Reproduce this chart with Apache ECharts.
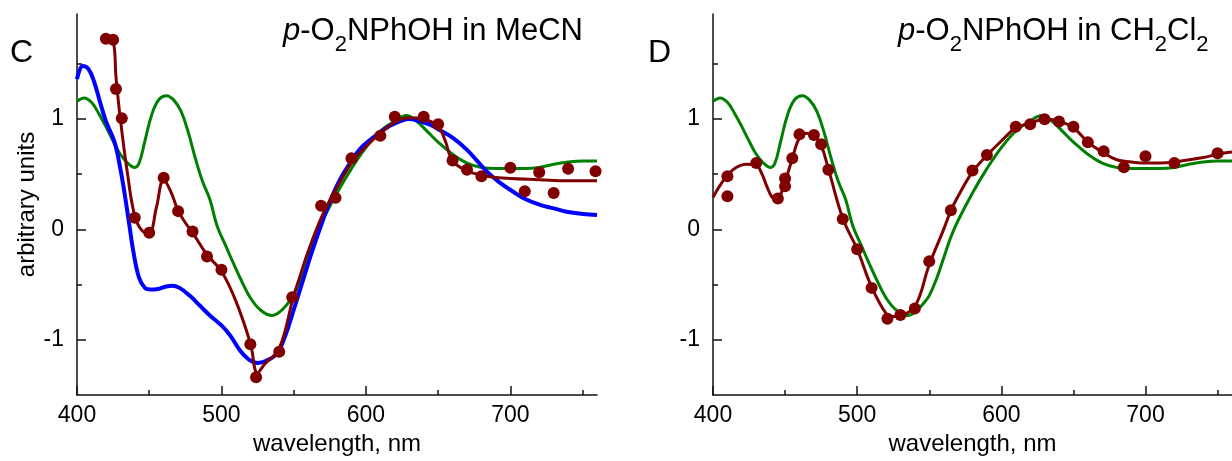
<!DOCTYPE html>
<html>
<head>
<meta charset="utf-8">
<script src="https://cdn.jsdelivr.net/npm/echarts@6/dist/echarts.min.js"></script>
<style>
  html, body { margin: 0; padding: 0; background: #fff; }
  #chart { width: 1232px; height: 461px; }
</style>
</head>
<body>
<div id="chart"></div>
<script>
// wavelength (nm), value (arbitrary units)
const greenCalc = [
  [400, 1.16], [405, 1.19], [410, 1.15], [415, 1.05], [420, 0.93], [425, 0.8], [430, 0.68],
  [435, 0.6], [440, 0.56], [443, 0.6], [447, 0.8], [452, 1.05], [457, 1.18], [462, 1.21],
  [467, 1.17], [472, 1.07], [477, 0.88], [482, 0.64], [487, 0.43], [492, 0.27], [497, 0.03],
  [503, -0.15], [508, -0.3], [514, -0.47], [520, -0.62], [527, -0.73], [535, -0.78],
  [541, -0.74], [546, -0.67], [550, -0.6], [555, -0.45], [560, -0.26], [565, -0.07],
  [570, 0.08], [580, 0.33], [590, 0.55], [600, 0.74], [610, 0.89], [620, 0.98], [628, 1.03],
  [635, 0.98], [643, 0.88], [650, 0.79], [660, 0.68], [670, 0.6], [680, 0.56], [690, 0.55],
  [700, 0.55], [710, 0.55], [720, 0.56], [730, 0.59], [740, 0.61], [750, 0.62], [760, 0.62]
];
const blueMeCN = [
  [400, 1.36], [404, 1.48], [408, 1.45], [412, 1.33], [416, 1.15], [420, 0.98], [426, 0.79],
  [430, 0.55], [433, 0.32], [436, 0.06], [439, -0.2], [443, -0.44], [447, -0.53], [451, -0.545],
  [456, -0.54], [461, -0.52], [466, -0.51], [471, -0.53], [478, -0.6], [485, -0.69],
  [492, -0.78], [500, -0.87], [506, -0.96], [513, -1.1], [519, -1.18], [525, -1.21],
  [531, -1.19], [538, -1.13], [544, -0.97], [550, -0.73], [556, -0.48], [562, -0.23],
  [568, 0.0], [575, 0.25], [582, 0.45], [589, 0.6], [596, 0.73], [603, 0.81], [610, 0.88],
  [617, 0.94], [624, 0.98], [630, 1.0], [637, 0.98], [644, 0.95], [651, 0.9], [660, 0.83],
  [670, 0.72], [677, 0.62], [684, 0.52], [692, 0.43], [702, 0.34], [711, 0.27], [721, 0.22],
  [730, 0.19], [739, 0.16], [750, 0.14], [760, 0.13]
];
const redFitMeCN = [
  [420, 1.72], [425, 1.7], [427, 1.38], [430, 1.0], [435, 0.5], [440, 0.12], [445, -0.01],
  [450, -0.03], [455, 0.2], [460, 0.45], [465, 0.34], [470, 0.17], [475, 0.06], [480, -0.03],
  [490, -0.23], [500, -0.38], [510, -0.65], [520, -1.03], [525, -1.3], [530, -1.22],
  [540, -1.08], [550, -0.6], [554, -0.44], [560, -0.2], [570, 0.13], [580, 0.38], [590, 0.6],
  [600, 0.75], [610, 0.87], [620, 0.97], [630, 1.01], [640, 1.0], [650, 0.93], [655, 0.8],
  [660, 0.62], [670, 0.53], [680, 0.49], [690, 0.47], [700, 0.46], [720, 0.45], [740, 0.44],
  [760, 0.44]
];
const redDotsMeCN = [
  [420, 1.725], [425, 1.716], [427, 1.27], [431, 1.006], [440, 0.105], [450, -0.03],
  [460, 0.467], [470, 0.165], [480, -0.02], [490, -0.245], [500, -0.365], [520, -1.04],
  [524, -1.34], [540, -1.108], [549, -0.614], [569, 0.213], [579, 0.285], [590, 0.644],
  [610, 0.847], [620, 1.02], [640, 1.02], [650, 0.952], [660, 0.623], [670, 0.54],
  [680, 0.48], [700, 0.557], [710, 0.344], [720, 0.518], [730, 0.33], [740, 0.548],
  [759, 0.527]
];
const redFitDCM = [
  [400, 0.29], [405, 0.4], [410, 0.49], [416, 0.56], [423, 0.59], [430, 0.58], [434, 0.5],
  [437, 0.4], [441, 0.29], [444, 0.27], [447, 0.32], [450, 0.43], [455, 0.64], [460, 0.83],
  [465, 0.87], [470, 0.85], [475, 0.76], [480, 0.55], [490, 0.1], [500, -0.18], [510, -0.52],
  [520, -0.76], [525, -0.79], [530, -0.78], [540, -0.7], [550, -0.32], [560, 0.0], [565, 0.17],
  [570, 0.3], [580, 0.52], [590, 0.67], [600, 0.8], [610, 0.92], [620, 0.96], [630, 1.0],
  [640, 0.98], [650, 0.92], [660, 0.79], [670, 0.7], [680, 0.63], [690, 0.61], [700, 0.6],
  [710, 0.6], [720, 0.61], [740, 0.65], [750, 0.68], [760, 0.7]
];
const redDotsDCM = [
  [410, 0.48], [410, 0.3], [430, 0.6], [445, 0.28], [450, 0.46], [450, 0.39], [455, 0.644],
  [460, 0.86], [470, 0.854], [475, 0.77], [480, 0.54], [490, 0.093], [500, -0.18],
  [510, -0.53], [521, -0.81], [530, -0.775], [540, -0.716], [550, -0.29], [565, 0.173],
  [580, 0.533], [590, 0.674], [610, 0.928], [620, 0.952], [630, 0.997], [640, 0.977],
  [650, 0.928], [660, 0.788], [671, 0.707], [685, 0.563], [700, 0.662], [720, 0.6],
  [750, 0.69]
];
const xLabels = [400, 500, 600, 700];
const xMinor = [450, 550, 650, 750];
const yLabels = [-1, 0, 1];
const yMinor = [-0.5, 0.5, 1.5];

const FONT = "'Liberation Sans', Arial, sans-serif";
const AX = '#111';
const GREEN = '#008000', RED = '#800000', BLUE = '#0000ff';

const chart = echarts.init(document.getElementById('chart'));

function mainX(grid, showName) {
  return {
    gridIndex: grid, type: 'value', min: 400, max: 760, position: 'bottom',
    name: showName ? 'wavelength, nm' : '', nameLocation: 'middle', nameGap: 37,
    nameTextStyle: { fontSize: 24, color: '#000', fontFamily: FONT },
    axisLine: { show: true, onZero: false, lineStyle: { color: AX, width: 1.5 } },
    axisTick: { show: true, inside: true, length: 9, customValues: xLabels, lineStyle: { color: AX, width: 1.5 } },
    axisLabel: { customValues: xLabels, fontSize: 23, color: '#000', fontFamily: FONT, margin: 9 },
    splitLine: { show: false }
  };
}
function minorX(grid) {
  return {
    gridIndex: grid, type: 'value', min: 400, max: 760, position: 'bottom',
    axisLine: { show: false, onZero: false },
    axisTick: { show: true, inside: true, length: 5, customValues: xMinor, lineStyle: { color: AX, width: 1.5 } },
    axisLabel: { show: false }, splitLine: { show: false }
  };
}
function mainY(grid, showName) {
  return {
    gridIndex: grid, type: 'value', min: -1.5, max: 1.95, position: 'left',
    name: showName ? 'arbitrary units' : '', nameLocation: 'middle', nameGap: 37,
    nameTextStyle: { fontSize: 24, color: '#000', fontFamily: FONT },
    axisLine: { show: true, onZero: false, lineStyle: { color: AX, width: 1.5 } },
    axisTick: { show: true, inside: true, length: 9, customValues: yLabels, lineStyle: { color: AX, width: 1.5 } },
    axisLabel: { customValues: yLabels, fontSize: 23, color: '#000', fontFamily: FONT, margin: 13 },
    splitLine: { show: false }
  };
}
function minorY(grid) {
  return {
    gridIndex: grid, type: 'value', min: -1.5, max: 1.95, position: 'left',
    axisLine: { show: false, onZero: false },
    axisTick: { show: true, inside: true, length: 5, customValues: yMinor, lineStyle: { color: AX, width: 1.5 } },
    axisLabel: { show: false }, splitLine: { show: false }
  };
}
function line(data, color, width, xi, yi) {
  return {
    type: 'line', data: data, xAxisIndex: xi, yAxisIndex: yi, smooth: 0.4,
    showSymbol: false, symbol: 'none', lineStyle: { color: color, width: width },
    z: 2, animation: false
  };
}
function dots(data, xi, yi) {
  return {
    type: 'scatter', data: data, xAxisIndex: xi, yAxisIndex: yi, symbolSize: 12,
    itemStyle: { color: RED, opacity: 1 }, z: 4, animation: false
  };
}

const base = { fontFamily: FONT, color: '#000', fontWeight: 'normal' };
const norm = Object.assign({}, base, { fontSize: 31, lineHeight: 42, verticalAlign: 'top' });
const ital = Object.assign({}, norm, { fontStyle: 'italic' });
const sub = Object.assign({}, base, { fontSize: 22, lineHeight: 24, padding: [18, 0, 0, 0], verticalAlign: 'top' });

const option = {
  backgroundColor: '#fff',
  animation: false,
  title: [
    { text: 'C', left: 10, top: 37, padding: 0, textStyle: { fontSize: 32, fontWeight: 'normal', color: '#000', fontFamily: FONT, lineHeight: 32 } },
    { text: 'D', left: 648, top: 37, padding: 0, textStyle: { fontSize: 32, fontWeight: 'normal', color: '#000', fontFamily: FONT, lineHeight: 32 } },
    { text: '{i|p}{n|-O}{s|2}{n|NPhOH in MeCN}', left: 283, top: 16, padding: 0,
      textStyle: { fontWeight: 'normal', rich: { i: ital, n: norm, s: sub } } },
    { text: '{i|p}{n|-O}{s|2}{n|NPhOH in CH}{s|2}{n|Cl}{s|2}', left: 898, top: 16, padding: 0,
      textStyle: { fontWeight: 'normal', rich: { i: ital, n: norm, s: sub } } }
  ],
  grid: [
    { left: 77, top: 14, width: 520, bottom: 62 },
    { left: 713, top: 14, right: -7, bottom: 62 }
  ],
  xAxis: [mainX(0, true), minorX(0), mainX(1, true), minorX(1)],
  yAxis: [mainY(0, true), minorY(0), mainY(1, false), minorY(1)],
  series: [
    line(greenCalc, GREEN, 3, 0, 0),
    line(blueMeCN, BLUE, 4, 0, 0),
    line(redFitMeCN, RED, 3, 0, 0),
    dots(redDotsMeCN, 0, 0),
    line(greenCalc, GREEN, 3, 2, 2),
    line(redFitDCM, RED, 3, 2, 2),
    dots(redDotsDCM, 2, 2)
  ]
};
chart.setOption(option);
</script>
</body>
</html>
